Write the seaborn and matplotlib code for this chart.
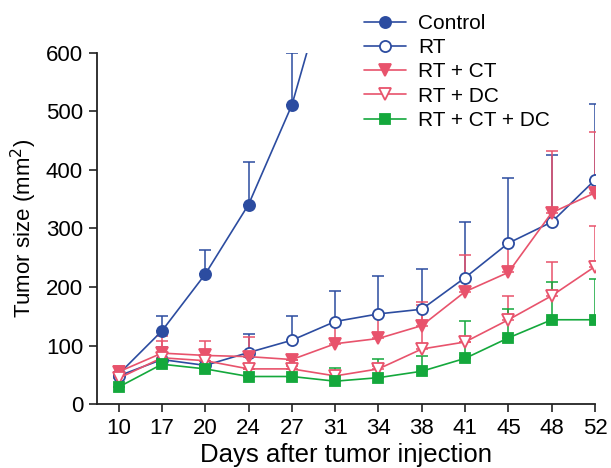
import numpy as np
import pandas as pd
import matplotlib
matplotlib.use("Agg")
import matplotlib.pyplot as plt
import seaborn as sns

days = ["10", "17", "20", "24", "27", "31", "34", "38", "41", "45", "48", "52"]
groups = ["Control", "RT", "RT + CT", "RT + DC", "RT + CT + DC"]

# mean tumor size (mm^2); Control runs off the top of the axis after day 27
control_mean = [51, 125, 222, 341, 511, 770]
control_upper = [55, 151, 263, 413, 600, 770]
rt_mean = [48, 76, 66, 88, 109, 141, 154, 162, 216, 275, 311, 383]
rt_upper = [52, 97, 66, 120, 151, 194, 218, 231, 311, 387, 425, 512]
rtct_mean = [55, 87, 83, 81, 76, 103, 112, 134, 192, 225, 327, 361]
rtct_upper = [65, 116, 107, 114, 76, 138, 150, 175, 254, 275, 433, 465]
rtdc_mean = [44, 79, 74, 60, 60, 48, 60, 94, 106, 144, 185, 235]
rtdc_upper = [50, 107, 74, 60, 65, 55, 65, 170, 106, 185, 242, 305]
rtctdc_mean = [29, 68, 60, 47, 47, 39, 45, 56, 78, 113, 144, 144]
rtctdc_upper = [29, 68, 60, 47, 47, 62, 77, 82, 142, 163, 208, 214]

means = [control_mean, rt_mean, rtct_mean, rtdc_mean, rtctdc_mean]
uppers = [control_upper, rt_upper, rtct_upper, rtdc_upper, rtctdc_upper]

blue = "#2c4ca0"
pink = "#e8536c"
green = "#14a83c"
colors = [blue, blue, pink, pink, green]
markers = ["o", "o", "v", "v", "s"]
filled = [True, False, True, False, True]

sns.set_style("ticks")
plt.rcParams["font.family"] = ["Liberation Sans", "DejaVu Sans"]
plt.rcParams.update({"text.color": "black", "axes.labelcolor": "black",
                     "xtick.labelcolor": "black", "ytick.labelcolor": "black"})

fig = plt.figure(figsize=(6.11, 4.68), dpi=100)
ax = fig.add_axes([97 / 611, 1 - 404 / 468, (595 - 97) / 611, (404 - 53) / 468])

handles = []
for name, m, u, c, mk, f in zip(groups, means, uppers, colors, markers, filled):
    pos = np.arange(len(m))
    df = pd.DataFrame({"pos": pos, "size": m})
    err = np.array(u) - np.array(m)
    ax.errorbar(pos, m, yerr=[np.zeros(len(m)), err], fmt="none",
                ecolor=c, elinewidth=1.3, capsize=4.5, capthick=1.3,
                alpha=0.85, zorder=1)
    sns.lineplot(data=df, x="pos", y="size", ax=ax, color=c, linewidth=1.2,
                 marker=mk, markersize=8 if mk != "s" else 7,
                 markerfacecolor=c if f else "white",
                 markeredgecolor=c, markeredgewidth=1.3, label=name, zorder=3)
    handles.append(ax.lines[-1])

ax.set_xlim(-0.5, len(days) - 1)
ax.set_ylim(0, 600)
ax.set_xticks(np.arange(len(days)))
ax.set_xticklabels(days)
ax.set_yticks(range(0, 601, 100))
ax.tick_params(labelsize=16, length=6, width=1.2, color="#222222", pad=4)
for s in ["left", "bottom"]:
    ax.spines[s].set_linewidth(1.3)
    ax.spines[s].set_color("#222222")
sns.despine(ax=ax)

ax.set_xlabel("Days after tumor injection", fontsize=18.5, va="bottom")
ax.xaxis.set_label_coords(0.5, -63 / 351)
ax.set_ylabel("Tumor size (mm$^2$)", fontsize=16, labelpad=5)

ax.legend(handles=handles, labels=groups, loc="upper left",
          bbox_to_anchor=(364 / 611, 1 - 14 / 468), bbox_transform=fig.transFigure,
          frameon=False, fontsize=15, handlelength=2.0, labelspacing=0.25,
          handletextpad=0.6, borderaxespad=0, borderpad=0)

fig.savefig("out.png", dpi=100)
